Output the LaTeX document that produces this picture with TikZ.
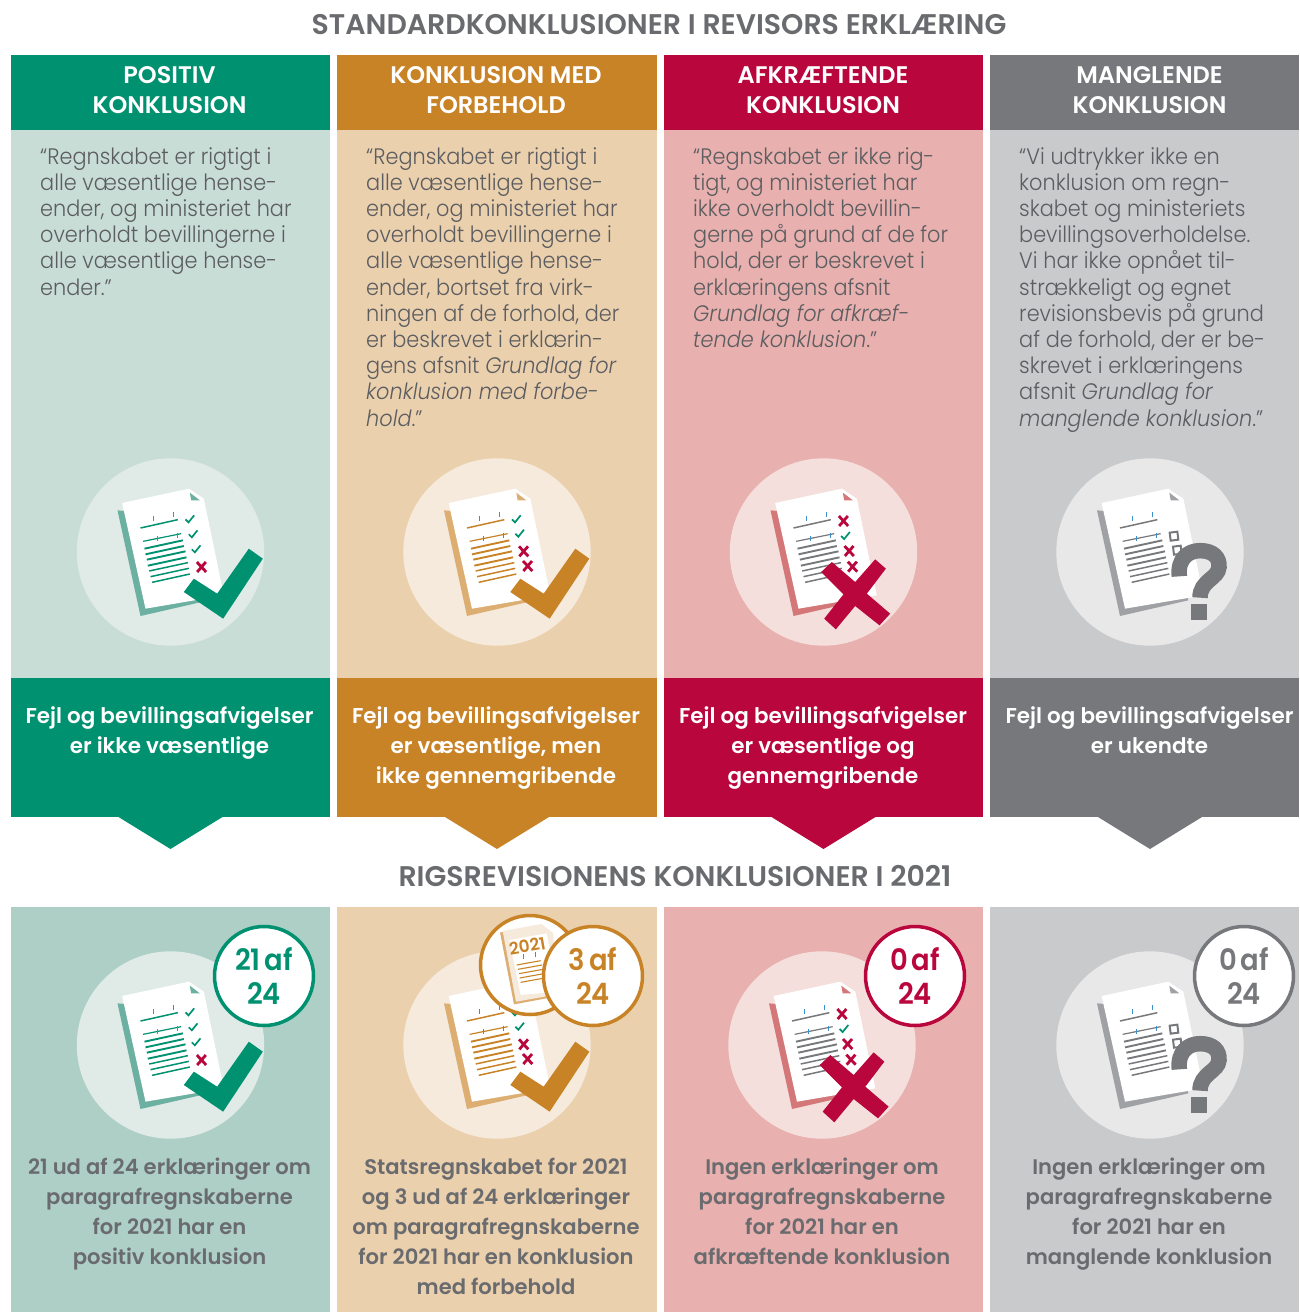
\documentclass[tikz,border=0pt]{standalone}
\usepackage{fontspec}
\setmainfont{Poppins Light}[ItalicFont={Poppins Light Italic},BoldFont={Poppins SemiBold},FakeStretch=0.93]
\newfontfamily\semif{Poppins SemiBold}
\newfontfamily\badgef{Poppins SemiBold}[FakeStretch=0.93,WordSpace=0.6]
\definecolor{gM}{HTML}{009170}\definecolor{gL}{HTML}{C9DDD7}\definecolor{gD}{HTML}{AECFC5}\definecolor{gC}{HTML}{E0EBE7}\definecolor{gS}{HTML}{6BB0A0}
\definecolor{oM}{HTML}{C98327}\definecolor{oL}{HTML}{EBD0AE}\definecolor{oC}{HTML}{F5EADC}\definecolor{oS}{HTML}{DDAE72}
\definecolor{rM}{HTML}{B9063C}\definecolor{rL}{HTML}{E8B0AE}\definecolor{rC}{HTML}{F4DFDC}\definecolor{rS}{HTML}{D47778}
\definecolor{kM}{HTML}{77787B}\definecolor{kL}{HTML}{C9CACC}\definecolor{kC}{HTML}{E8E8E9}\definecolor{kS}{HTML}{A0A1A4}
\definecolor{txt}{HTML}{6A6B6E}\definecolor{btxt}{HTML}{5C5D60}\definecolor{tick}{HTML}{3D8FC9}
\tikzset{
 x=1pt,y=-1pt,
 title/.style={font=\semif\fontsize{28.4}{30}\selectfont,text=txt,inner sep=0pt},
 head/.style={font=\semif\fontsize{24}{30}\selectfont,text=white,align=center,inner sep=0pt},
 banner/.style={font=\semif\fontsize{21.45}{30}\selectfont,text=white,align=center,inner sep=0pt},
 body/.style={font=\fontsize{22.4}{26.2}\selectfont,text=btxt,align=left,anchor=north west,inner sep=0pt},
 low/.style={font=\semif\fontsize{21.1}{30}\selectfont,text=txt,align=center,inner sep=0pt},
 badge/.style={circle,fill=white,line width=3.5pt,minimum size=99pt,inner sep=0pt,align=center,font=\badgef\fontsize{29.5}{34}\selectfont},
 mini/.style={line width=1.1pt},
}
\newcommand{\mchk}[2]{\draw[gM,line width=1.7pt] (#1-13,#2) -- (#1-4,#2+9) -- (#1+13,#2-12);}
\newcommand{\mcro}[2]{\draw[rM,line width=2.8pt] (#1-14,#2-15) -- (#1+14,#2+15) (#1+13,#2-15) -- (#1-13,#2+15);}
\newcommand{\msq}[2]{\draw[kM,line width=2pt] (#1-11,#2-11) -- (#1+12,#2-14) -- (#1+15,#2+10) -- (#1-8,#2+13) -- cycle;}
\newcommand{\iconbase}[6]{%
 \fill[#3] (#1,#2) circle[radius=93.7];
 \begin{scope}[shift={(#1-110,#2-101.67)},x=0.33333pt,y=-0.33333pt]
  \fill[#4] (171,180) -- (240,497) -- (445,450) -- (400,200) -- cycle;
  \fill[white] (185,158) -- (385,115) -- (430,145) -- (490,435) -- (255,475) -- cycle;
  \fill[#4] (388,127) -- (418,150) -- (392,150) -- cycle;
  \draw[tick,line width=1pt] (278,198) -- (278,212) (338,186) -- (338,201);
  \draw[#5,line width=1.5pt] (240,233) -- (352,208);
  \draw[#5,line width=1.2pt] (248,273) -- (362,250);
  \draw[tick,line width=1pt] (290,258) -- (290,272) (350,248) -- (350,262);
  \draw[#5,line width=1.9pt] (252,295) -- (367,270) (255,312) -- (370,287) (259,328) -- (375,303) (262,346) -- (378,321);
  \draw[#5,line width=1.5pt] (266,362) -- (382,337) (270,379) -- (385,354) (275,396) -- (388,371);
  #6
 \end{scope}}
\newcommand{\bigchk}[1]{\fill[#1] (370,425) -- (400,385) -- (470,430) -- (565,295) -- (607,325) -- (488,505) -- cycle;}
\newcommand{\bigx}{\fill[rM] (323,365) -- (355,335) -- (425,395) -- (485,327) -- (517,355) -- (460,430) -- (530,490) -- (498,525) -- (425,467) -- (367,537) -- (332,505) -- (390,432) -- cycle;}
\newcommand{\bigq}{%
 \draw[kM,line width=15.5pt] (418,378) .. controls (412,325) and (445,301) .. (480,301) .. controls (520,301) and (539,322) .. (537,350) .. controls (535,385) and (480,390) .. (480,442);
 \fill[kM] (453,460) rectangle (502,508);}
\newcommand{\iconG}[2]{\iconbase{#1}{#2}{gC}{gS}{gM}{\mchk{388}{207}\mchk{398}{252}\mchk{407}{297}\mcro{423}{350}\bigchk{gM}}}
\newcommand{\iconO}[2]{\iconbase{#1}{#2}{oC}{oS}{oM}{\mchk{388}{207}\mchk{398}{250}\mcro{410}{303}\mcro{422}{347}\bigchk{oM}}}
\newcommand{\iconR}[2]{\iconbase{#1}{#2}{rC}{rS}{kM}{\mcro{390}{212}\mchk{396}{257}\mcro{407}{302}\mcro{417}{349}\bigx}}
\newcommand{\iconK}[2]{\iconbase{#1}{#2}{kC}{kS}{kM}{\msq{400}{258}\msq{410}{300}\bigq}}
\newcommand{\column}[6]{%
 \fill[#3] (#1,55) rectangle (#2,130);
 \fill[#4] (#1,130) rectangle (#2,678);
 \fill[#3] (#1,678) rectangle (#2,817);
 \fill[#3] (#6-52,817) -- (#6,849) -- (#6+52,817) -- cycle;
 \fill[#5] (#1,907) rectangle (#2,1312);}
\begin{document}
\begin{tikzpicture}
\useasboundingbox (0,0) rectangle (1299,1312);
\fill[white] (0,0) rectangle (1299,1312);
\node[title] (t1) at (659,25) {STANDARDKONKLUSIONER I REVISORS ERKLÆRING};
\node[title] (t2) at (675,876) {RIGSREVISIONENS KONKLUSIONER I 2021};
\column{11}{330}{gM}{gL}{gD}{170.5}
\column{337}{657}{oM}{oL}{oL}{497}
\column{664}{983}{rM}{rL}{rL}{823.5}
\column{990}{1299}{kM}{kL}{kL}{1150}
\node[head] (h1) at (169.5,90) {POSITIV\\KONKLUSION};
\node[head] (h2) at (496,90) {KONKLUSION MED\\FORBEHOLD};
\node[head] (h3) at (823,90) {AFKRÆFTENDE\\KONKLUSION};
\node[head] (h4) at (1149.5,90) {MANGLENDE\\KONKLUSION};
\node[body] (b1) at (40,147) {“Regnskabet er rigtigt i\\alle væsentlige hense-\\ender, og ministeriet har\\overholdt bevillingerne i\\alle væsentlige hense-\\ender.”};
\node[body] (b2) at (366,147) {“Regnskabet er rigtigt i\\alle væsentlige hense-\\ender, og ministeriet har\\overholdt bevillingerne i\\alle væsentlige hense-\\ender, bortset fra virk-\\ningen af de forhold, der\\er beskrevet i erklærin-\\gens afsnit \textit{Grundlag for}\\\textit{konklusion med forbe-}\\\textit{hold}.”};
\node[body] (b3) at (693,147) {“Regnskabet er ikke rig-\\tigt, og ministeriet har\\ikke overholdt bevillin-\\gerne på grund af de for\\hold, der er beskrevet i\\erklæringens afsnit\\\textit{Grundlag for afkræf-}\\\textit{tende konklusion}.”};
\node[body] (b4) at (1019,147) {“Vi udtrykker ikke en\\konklusion om regn-\\skabet og ministeriets\\bevillingsoverholdelse.\\Vi har ikke opnået til-\\strækkeligt og egnet\\revisionsbevis på grund\\af de forhold, der er be-\\skrevet i erklæringens\\afsnit \textit{Grundlag for}\\\textit{manglende konklusion}.”};
\iconG{170.5}{552}
\iconO{497}{552}
\iconR{823.5}{552}
\iconK{1150}{552}
\node[banner] (l1) at (169.5,733) {Fejl og bevillingsafvigelser\\er ikke væsentlige};
\node[banner] (l2) at (496,748) {Fejl og bevillingsafvigelser\\er væsentlige, men\\ikke gennemgribende};
\node[banner] (l3) at (823,748) {Fejl og bevillingsafvigelser\\er væsentlige og\\gennemgribende};
\node[banner] (l4) at (1149.5,730) {Fejl og bevillingsafvigelser\\er ukendte};
\iconG{170.5}{1045}
\iconO{497}{1045}
\iconR{822}{1045}
\iconK{1150}{1045}
\node[badge,draw=oM] (m0) at (530,965) {};
\begin{scope}[shift={(390,905)},x=0.33333pt,y=-0.33333pt]
 \fill[oS] (330,82) -- (372,298) -- (480,278) -- (440,75) -- cycle;
 \fill[oC] (338,78) -- (455,57) -- (490,85) -- (495,200) -- (480,272) -- (378,290) -- cycle;
 \fill[white] (358,105) -- (470,85) -- (495,210) -- (480,262) -- (392,270) -- cycle;
 \node[font=\semif\fontsize{17}{17}\selectfont,text=oM,rotate=10,inner sep=0pt] (m1) at (412,123) {2021};
 \draw[tick,line width=.9pt] (400,148) -- (400,162) (437,142) -- (437,156);
 \draw[oM,mini] (380,180) -- (452,167) (384,193) -- (456,180) (387,206) -- (459,193) (389,219) -- (461,206) (392,232) -- (464,219);
\end{scope}
\node[badge,draw=gM,text=gM] (a1) at (264,976) {21 af\\24};
\node[badge,draw=oM,text=oM] (a2) at (593,976) {3 af\\24};
\node[badge,draw=rM,text=rM] (a3) at (915,976) {0 af\\24};
\node[badge,draw=kM,text=kM] (a4) at (1244,976) {0 af\\24};
\node[low] (c1) at (169.5,1214) {21 ud af 24 erklæringer om\\paragrafregnskaberne\\for 2021 har en\\positiv konklusion};
\node[low] (c2) at (496,1226) {Statsregnskabet for 2021\\og 3 ud af 24 erklæringer\\om paragrafregnskaberne\\for 2021 har en konklusion\\med forbehold};
\node[low] (c3) at (822,1211) {Ingen erklæringer om\\paragrafregnskaberne\\for 2021 har en\\afkræftende konklusion};
\node[low] (c4) at (1149,1214) {Ingen erklæringer om\\paragrafregnskaberne\\for 2021 har en\\manglende konklusion};
\end{tikzpicture}
\end{document}
